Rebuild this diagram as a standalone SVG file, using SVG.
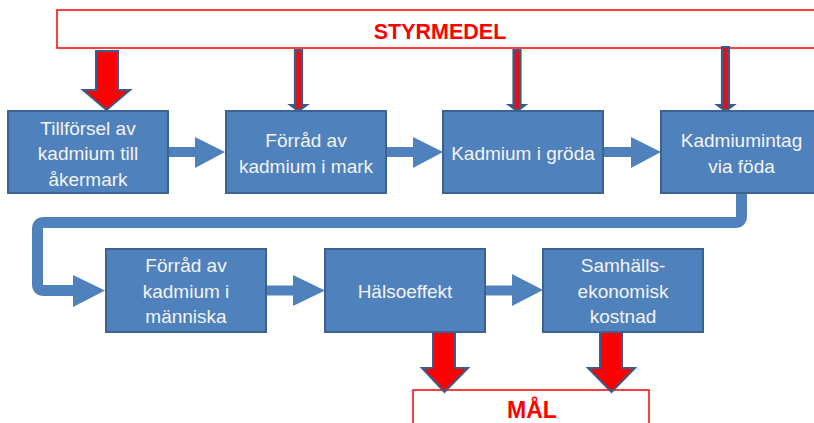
<svg xmlns="http://www.w3.org/2000/svg" width="814" height="423" viewBox="0 0 814 423">
<style>
.box{fill:#4f81bd;stroke:#3a6391;stroke-width:2}
.bt{font-family:"Liberation Sans",Arial,sans-serif;font-size:19px;fill:#f4f4f4;text-anchor:middle}
.conn{fill:#4f81bd;stroke:none}
.line{fill:none;stroke:#4f81bd;stroke-width:11}
.red{fill:#ff0000;stroke:#385d8a;stroke-width:2}
.thin{fill:#e0101a;stroke:#385d8a;stroke-width:2.2}
.frame{fill:#ffffff;stroke:#ff0000;stroke-width:1.5}
.rt{font-family:"Liberation Sans",Arial,sans-serif;font-weight:bold;fill:#ff0000;text-anchor:middle}
</style>
<rect width="814" height="423" fill="#ffffff"/>
<g id="styrmedel">
<rect class="frame" x="57" y="10" width="800" height="38"/>
<text class="rt" x="440" y="39" font-size="21.5">STYRMEDEL</text>
</g>
<g id="mal">
<rect class="frame" x="413" y="390" width="236" height="50"/>
<text class="rt" x="532" y="418" font-size="23">MÅL</text>
</g>
<g id="connectors">
<path class="red" d="M96,51 H118 V90 H130 L106.5,110 L83,90 H96 Z"/>
<path class="thin" d="M295,50 H302 V105 H306.5 L298.5,111 L290.5,105 H295 Z"/>
<path class="thin" d="M513.5,50 H520.5 V105 H525 L517,111 L509,105 H513.5 Z"/>
<path class="thin" d="M722,47 H729 V105 H733.5 L725.5,111 L717.5,105 H722 Z"/>
<path class="conn" d="M168,147 H195 V137 L225,152 L195,168 V157 H168 Z"/>
<path class="conn" d="M386,147 H413 V137 L443,152 L413,168 V157 H386 Z"/>
<path class="conn" d="M603,147 H631 V137 L661,152 L631,168 V157 H603 Z"/>
<path class="line" d="M741.5,193 V216 Q741.5,222.5 735,222.5 H44 Q37.5,222.5 37.5,229 V284 Q37.5,290.5 44,290.5 H75"/>
<path class="conn" d="M73,275 L105,290.5 L73,307 Z"/>
<path class="conn" d="M266,285.5 H293 V275 L325,290.5 L293,306 V295.5 H266 Z"/>
<path class="conn" d="M485,285.5 H512 V274 L543,290 L512,306 V295.5 H485 Z"/>
<path class="red" d="M433,331 H455 V368 H468 L444.5,392 L422,368 H433 Z"/>
<path class="red" d="M600,331 H622 V368 H635 L611.5,392 L588,368 H600 Z"/>
</g>
<g id="n1">
<rect class="box" x="8" y="111" width="160" height="82"/>
<text class="bt" x="88" y="134.5">Tillförsel av</text>
<text class="bt" x="88" y="160">kadmium till</text>
<text class="bt" x="88" y="185.5">åkermark</text>
</g>
<g id="n2">
<rect class="box" x="226" y="111" width="160" height="82"/>
<text class="bt" x="306" y="147">Förråd av</text>
<text class="bt" x="306" y="173">kadmium i mark</text>
</g>
<g id="n3">
<rect class="box" x="443" y="111" width="160" height="82"/>
<text class="bt" x="523" y="159.5">Kadmium i gröda</text>
</g>
<g id="n4">
<rect class="box" x="661" y="111" width="160" height="82"/>
<text class="bt" x="741.5" y="147">Kadmiumintag</text>
<text class="bt" x="741.5" y="173">via föda</text>
</g>
<g id="n5">
<rect class="box" x="106" y="249" width="160" height="83"/>
<text class="bt" x="186" y="272">Förråd av</text>
<text class="bt" x="186" y="297.5">kadmium i</text>
<text class="bt" x="186" y="323">människa</text>
</g>
<g id="n6">
<rect class="box" x="325" y="249" width="160" height="83"/>
<text class="bt" x="405" y="298">Hälsoeffekt</text>
</g>
<g id="n7">
<rect class="box" x="543" y="249" width="160" height="83"/>
<text class="bt" x="623" y="272">Samhälls-</text>
<text class="bt" x="623" y="297.5">ekonomisk</text>
<text class="bt" x="623" y="323">kostnad</text>
</g>
</svg>
